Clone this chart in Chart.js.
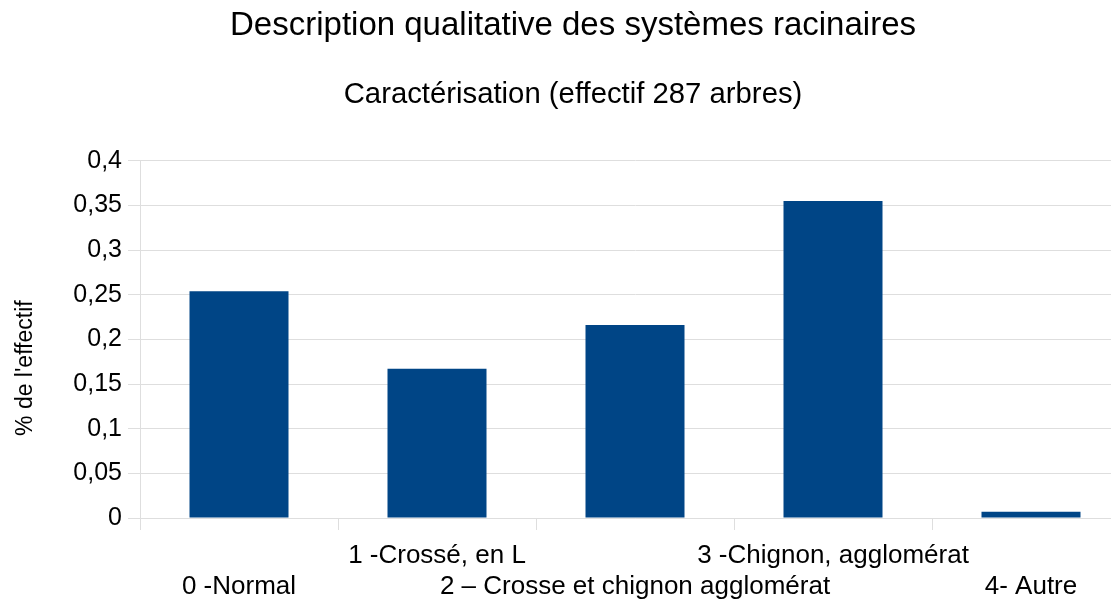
<!DOCTYPE html>
<html>
<head>
<meta charset="utf-8">
<script src="https://cdn.jsdelivr.net/npm/chart.js@4/dist/chart.umd.min.js"></script>
<style>
  html, body { margin: 0; padding: 0; background: #ffffff; overflow: hidden; }
  #wrap { width: 1146px; height: 599px; }
</style>
</head>
<body>
<div id="wrap"><canvas id="c" width="1146" height="599"></canvas></div>
<script>
const titleText = 'Description qualitative des systèmes racinaires';
const subtitleText = 'Caractérisation (effectif 287 arbres)';
const yAxisTitle = "% de l'effectif";
const categories = ['0 -Normal', '1 -Crossé, en L', '2 – Crosse et chignon agglomérat', '3 -Chignon, agglomérat', '4- Autre'];
const values = [0.254, 0.167, 0.216, 0.355, 0.007];
const yTicks = [0, 0.05, 0.1, 0.15, 0.2, 0.25, 0.3, 0.35, 0.4];
const yTickLabels = ['0', '0,05', '0,1', '0,15', '0,2', '0,25', '0,3', '0,35', '0,4'];

// staggered labels: even indices on the lower row, odd on the upper row
const staggered = categories.map((c, i) => (i % 2 === 0 ? ['', c] : [c, '']));

const gridColor = '#dedede';
const font = 'Liberation Sans, Arial, sans-serif';

new Chart(document.getElementById('c'), {
  type: 'bar',
  data: {
    labels: staggered,
    datasets: [{
      data: values,
      backgroundColor: '#004586',
      borderWidth: 0,
      categoryPercentage: 1.0,
      barPercentage: 0.5
    }]
  },
  options: {
    responsive: false,
    animation: false,
    layout: { padding: 0 },
    plugins: {
      legend: { display: false },
      tooltip: { enabled: false },
      title: {
        display: true,
        text: titleText,
        color: '#000000',
        font: { family: font, size: 33, weight: 'normal' },
        padding: { top: 6, bottom: 0 }
      },
      subtitle: {
        display: true,
        text: subtitleText,
        color: '#000000',
        font: { family: font, size: 29.3, weight: 'normal' },
        padding: { top: 32, bottom: 48 }
      }
    },
    scales: {
      x: {
        offset: true,
        grid: {
          display: true,
          drawOnChartArea: false,
          drawTicks: true,
          tickLength: 12,
          color: gridColor,
          offset: true
        },
        border: { display: true, color: gridColor },
        ticks: {
          color: '#000000',
          font: { family: font, size: 26, lineHeight: '31px' },
          maxRotation: 0,
          minRotation: 0,
          autoSkip: false,
          padding: 10
        },
        afterFit: (s) => { s.height = 81; s.paddingRight = 16; }
      },
      y: {
        min: 0,
        max: 0.4,
        afterBuildTicks: (s) => { s.ticks = yTicks.map(v => ({ value: v })); },
        grid: {
          color: gridColor,
          tickLength: 12,
          drawTicks: true
        },
        border: { display: true, color: gridColor },
        ticks: {
          color: '#000000',
          font: { family: font, size: 25 },
          padding: 6,
          callback: (v) => {
            const i = yTicks.findIndex(t => Math.abs(t - v) < 1e-9);
            return i >= 0 ? yTickLabels[i] : '';
          }
        },
        title: {
          display: true,
          text: yAxisTitle + '         ',
          color: '#000000',
          font: { family: font, size: 23, weight: 'normal' },
          padding: { top: 12, bottom: 0 }
        },
        afterFit: (s) => { s.width = 140; }
      }
    }
  }
});
</script>
</body>
</html>
